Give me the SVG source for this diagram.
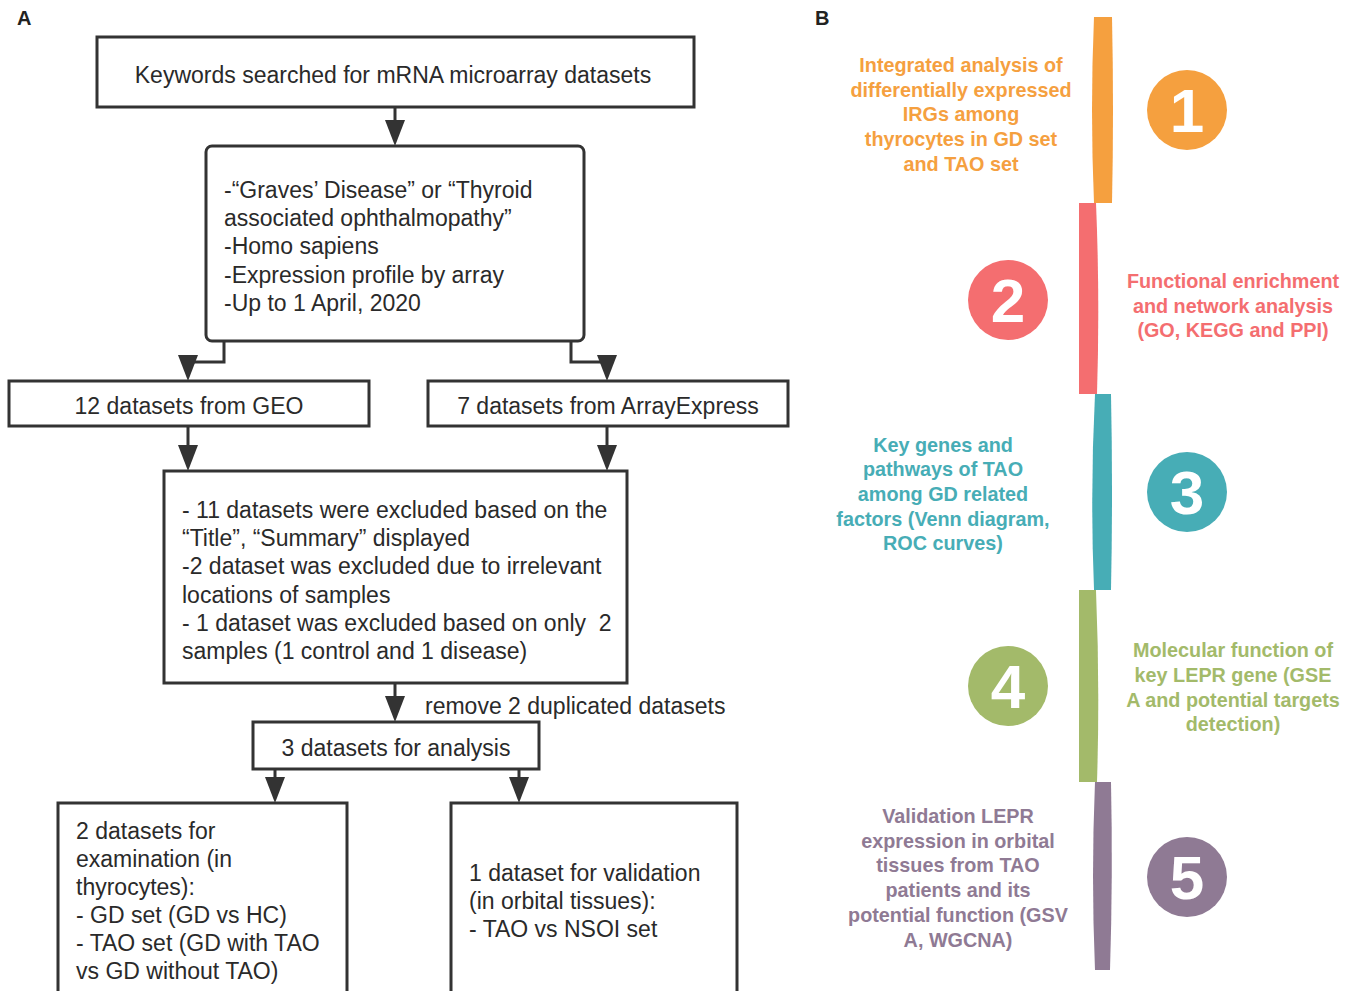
<svg xmlns="http://www.w3.org/2000/svg" width="1354" height="991" viewBox="0 0 1354 991">
<defs>
<style>
.box{fill:#fff;stroke:#333;stroke-width:3}
.t{font-family:"Liberation Sans",Arial,sans-serif;font-size:23px;fill:#2a2a2a}
.c{text-anchor:middle}
.ln{fill:none;stroke:#333;stroke-width:3}
.lab{font-family:"Liberation Sans",Arial,sans-serif;font-size:20px;font-weight:bold;fill:#222}
.b{font-family:"Liberation Sans",Arial,sans-serif;font-size:19.8px;font-weight:bold;text-anchor:middle}
.num{font-family:"Liberation Sans",Arial,sans-serif;font-size:62px;font-weight:bold;fill:#fff;text-anchor:middle}
</style>
<path id="arr" d="M-10,-26 L10,-26 L0,0 Z" fill="#333"/>
</defs>
<text class="lab" x="17" y="25">A</text>
<text class="lab" x="815" y="25">B</text>

<g id="connectors">
<line class="ln" x1="395" y1="107" x2="395" y2="125"/><use href="#arr" x="395" y="146"/>
<polyline class="ln" points="224,341 224,362 188,362"/><use href="#arr" x="188" y="381"/>
<polyline class="ln" points="571,341 571,362 607,362"/><use href="#arr" x="607" y="381"/>
<line class="ln" x1="188" y1="426" x2="188" y2="450"/><use href="#arr" x="188" y="471"/>
<line class="ln" x1="607" y1="426" x2="607" y2="450"/><use href="#arr" x="607" y="471"/>
<line class="ln" x1="395" y1="683" x2="395" y2="700"/><use href="#arr" x="395" y="722"/>
<line class="ln" x1="275" y1="769" x2="275" y2="782"/><use href="#arr" x="275" y="803"/>
<line class="ln" x1="519" y1="769" x2="519" y2="782"/><use href="#arr" x="519" y="803"/>
</g>

<g id="n1"><rect class="box" x="97" y="37" width="597" height="70"/>
<text class="t c" x="393" y="83">Keywords searched for mRNA microarray datasets</text></g>

<g id="n2"><rect class="box" x="206" y="146" width="378" height="195" rx="6"/>
<text class="t" x="224" y="198">-“Graves’ Disease” or “Thyroid</text>
<text class="t" x="224" y="226">associated ophthalmopathy”</text>
<text class="t" x="224" y="254">-Homo sapiens</text>
<text class="t" x="224" y="283">-Expression profile by array</text>
<text class="t" x="224" y="311">-Up to 1 April, 2020</text></g>

<g id="n3"><rect class="box" x="9" y="381" width="360" height="45"/>
<text class="t c" x="189" y="414">12 datasets from GEO</text></g>

<g id="n4"><rect class="box" x="428" y="381" width="360" height="45"/>
<text class="t c" x="608" y="414">7 datasets from ArrayExpress</text></g>

<g id="n5"><rect class="box" x="164" y="471" width="463" height="212"/>
<text class="t" x="182" y="518">- 11 datasets were excluded based on the</text>
<text class="t" x="182" y="546">“Title”, “Summary” displayed</text>
<text class="t" x="182" y="574">-2 dataset was excluded due to irrelevant</text>
<text class="t" x="182" y="603">locations of samples</text>
<text class="t" x="182" y="631">- 1 dataset was excluded based on only&#160; 2</text>
<text class="t" x="182" y="659">samples (1 control and 1 disease)</text></g>

<text class="t" x="425" y="714">remove 2 duplicated datasets</text>

<g id="n6"><rect class="box" x="253" y="722" width="286" height="47"/>
<text class="t c" x="396" y="756">3 datasets for analysis</text></g>

<g id="n7"><rect class="box" x="58" y="803" width="289" height="200"/>
<text class="t" x="76" y="839">2 datasets for</text>
<text class="t" x="76" y="867">examination (in</text>
<text class="t" x="76" y="895">thyrocytes):</text>
<text class="t" x="76" y="923">- GD set (GD vs HC)</text>
<text class="t" x="76" y="951">- TAO set (GD with TAO</text>
<text class="t" x="76" y="979">vs GD without TAO)</text></g>

<g id="n8"><rect class="box" x="451" y="803" width="286" height="200"/>
<text class="t" x="469" y="881">1 dataset for validation</text>
<text class="t" x="469" y="909">(in orbital tissues):</text>
<text class="t" x="469" y="937">- TAO vs NSOI set</text></g>

<g id="step1">
<path d="M1094,17 L1112,17 Q1114,110 1112,203 L1094,203 Q1090,110 1094,17 Z" fill="#F5A03F"/>
<circle cx="1187" cy="110" r="40" fill="#F5A03F"/>
<text class="num" x="1187" y="132">1</text>
<g class="b" fill="#F5A03F">
<text x="961" y="72">Integrated analysis of</text>
<text x="961" y="97">differentially expressed</text>
<text x="961" y="121">IRGs among</text>
<text x="961" y="146">thyrocytes in GD set</text>
<text x="961" y="171">and TAO set</text></g>
</g>

<g id="step2">
<path d="M1079,203 L1096,203 Q1100,298 1097,394 L1079,394 Z" fill="#F46E70"/>
<circle cx="1008" cy="300" r="40" fill="#F46E70"/>
<text class="num" x="1008" y="322">2</text>
<g class="b" fill="#F46E70">
<text x="1233" y="288">Functional enrichment</text>
<text x="1233" y="313">and network analysis</text>
<text x="1233" y="337">(GO, KEGG and PPI)</text></g>
</g>

<g id="step3">
<path d="M1095,394 L1111,394 Q1113,492 1111,590 L1094,590 Q1090,492 1095,394 Z" fill="#47ADB6"/>
<circle cx="1187" cy="492" r="40" fill="#47ADB6"/>
<text class="num" x="1187" y="514">3</text>
<g class="b" fill="#47ADB6">
<text x="943" y="452">Key genes and</text>
<text x="943" y="476">pathways of TAO</text>
<text x="943" y="501">among GD related</text>
<text x="943" y="526">factors (Venn diagram,</text>
<text x="943" y="550">ROC curves)</text></g>
</g>

<g id="step4">
<path d="M1079,590 L1096,590 Q1100,686 1097,782 L1079,782 Z" fill="#A3BA6A"/>
<circle cx="1008" cy="686" r="40" fill="#A3BA6A"/>
<text class="num" x="1008" y="708">4</text>
<g class="b" fill="#A3BA6A">
<text x="1233" y="657">Molecular function of</text>
<text x="1233" y="682">key LEPR gene (GSE</text>
<text x="1233" y="707">A and potential targets</text>
<text x="1233" y="731">detection)</text></g>
</g>

<g id="step5">
<path d="M1095,782 L1111,782 Q1113,876 1110,970 L1095,970 Q1091,876 1095,782 Z" fill="#8F7A94"/>
<circle cx="1187" cy="877" r="40" fill="#8F7A94"/>
<text class="num" x="1187" y="899">5</text>
<g class="b" fill="#8F7A94">
<text x="958" y="823">Validation LEPR</text>
<text x="958" y="848">expression in orbital</text>
<text x="958" y="872">tissues from TAO</text>
<text x="958" y="897">patients and its</text>
<text x="958" y="922">potential function (GSV</text>
<text x="958" y="947">A, WGCNA)</text></g>
</g>
</svg>
